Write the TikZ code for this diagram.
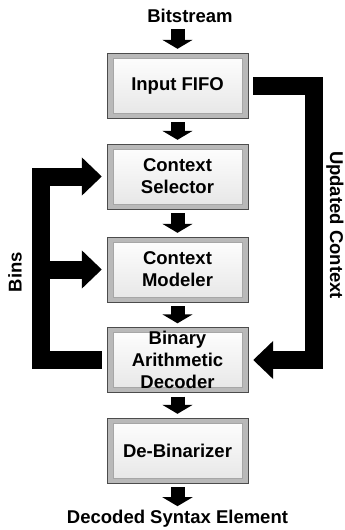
\documentclass[tikz,border=0pt]{standalone}
\usepackage{fontspec}
\setmainfont{Liberation Sans}
\usetikzlibrary{arrows.meta}

\begin{document}
\begin{tikzpicture}[font=\fontsize{18.5}{22}\selectfont\bfseries,
  block/.style={draw=gray!60!black, fill=gray!55, minimum width=141pt, minimum height=65pt, align=center, inner sep=0pt,
    path picture={\shade[top color=white, bottom color=gray!20, draw=gray!70] ([shift={(6pt,-5pt)}]path picture bounding box.north west) rectangle ([shift={(-6pt,5pt)}]path picture bounding box.south east);}},
  plain/.style={inner sep=2pt},
  flow/.style={line width=14pt, -{Triangle[width=30pt,length=9pt]}, shorten <=4pt, shorten >=4pt},
  bus/.style={line width=18pt, line join=miter, -{Triangle[width=37pt,length=20pt]}, shorten <=5pt, shorten >=5pt}]
  \useasboundingbox (0pt,0pt) rectangle (345pt,-530pt);
  \draw (177.5pt, -85.5pt)node[block](fifo){Input FIFO};
  \draw (177.5pt, -176.5pt)node[block](sel){Context\\Selector};
  \draw (177.5pt, -269.5pt)node[block](mod){Context\\Modeler};
  \draw (177.5pt, -360.0pt)node[block](bad){Binary\\Arithmetic\\Decoder};
  \draw (177.5pt, -450.5pt)node[block](debin){De-Binarizer};
  \draw (190.0pt, -16.0pt)node[plain](bits){Bitstream};
  \draw (177.5pt, -519.0pt)node[plain](out){Decoded Syntax Element};
  \draw (15.0pt, -272.0pt)node[plain, rotate=90](bins){Bins};
  \draw (335.0pt, -225.0pt)node[plain, rotate=-90](upd){Updated Context};
  \coordinate (binsx) at (41pt, 0pt);
  % main chain
  \draw[flow] (fifo.north |- bits.south) -- (fifo.north);
  \draw[flow] (fifo) -- (sel);
  \draw[flow] (sel) -- (mod);
  \draw[flow] (mod) -- (bad);
  \draw[flow] (bad) -- (debin);
  \draw[flow, shorten >=2pt] (debin) -- (out);
  % feedback
  \draw[bus] (fifo.east) -- ++(66pt, 0pt) |- (bad.east);
  \draw[bus] (bad.west) -| (binsx |- sel.west) -- (sel.west);
  \draw[bus, shorten <=0pt] (binsx |- mod.west) -- (mod.west);
\end{tikzpicture}
\end{document}
